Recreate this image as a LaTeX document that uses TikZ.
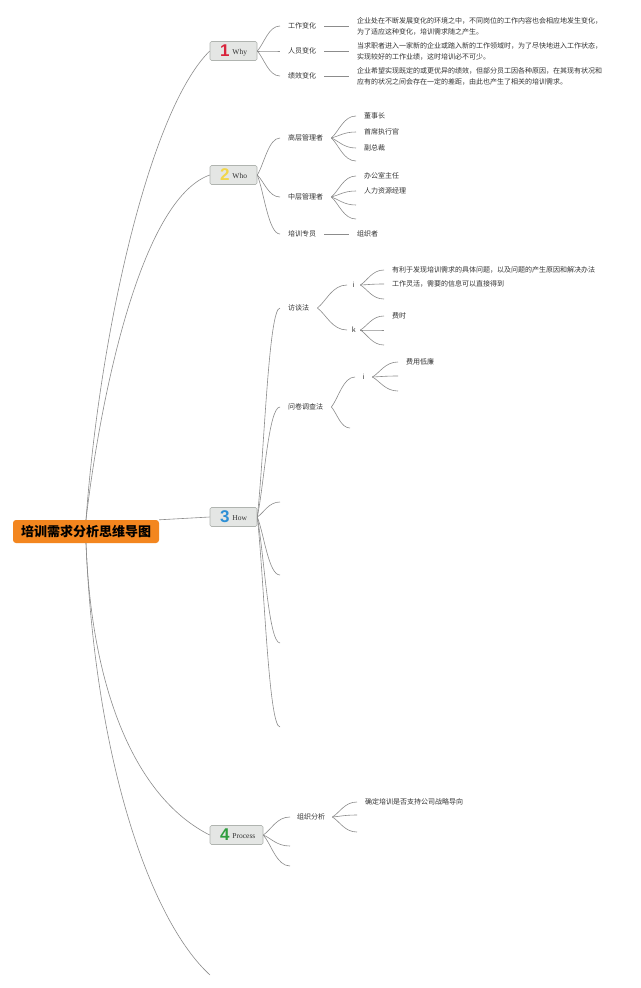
\documentclass[tikz,border=0pt]{standalone}
\usepackage{fontspec}
\setmainfont{Liberation Serif}
\newfontfamily\cjk{Noto Sans CJK SC}
\newfontfamily\numf{Liberation Sans}
\usetikzlibrary{calc}
\definecolor{lnc}{HTML}{8C8C8C}
\definecolor{txt}{HTML}{333333}
\definecolor{tbf}{HTML}{E4E6E4}
\definecolor{tbd}{HTML}{B0B4B0}
\definecolor{orng}{HTML}{F3861F}
\definecolor{n1}{HTML}{D9243C}
\definecolor{n2}{HTML}{F2D64B}
\definecolor{n3}{HTML}{2D8FD5}
\definecolor{n4}{HTML}{2E9E3E}
\newcommand\tpc[4]{\makebox[#1pt][l]{\hspace{10pt}{\color{#2}\numf\bfseries\fontsize{17}{17}\selectfont #3}\hspace{3pt}\raisebox{2.5pt}{\color{txt}\fontsize{7.5}{8}\selectfont #4}}}
\begin{document}
\begin{tikzpicture}[x=1pt,y=-1pt,
  conn/.style={draw=lnc,line width=0.6pt},
  br/.style={to path={let \p1=(\tikztostart), \p2=(\tikztotarget) in .. controls ({\x1+0.3*(\x2-\x1)},{\y1+0.3*(\y2-\y1)}) and ({\x1+0.5*(\x2-\x1)},{\y2}) .. (\p2)}},
  root/.style={fill=orng,rounded corners=3pt,minimum width=146pt,minimum height=23pt,inner sep=0pt,font=\cjk\bfseries\fontsize{13}{13}\selectfont,text=black},
  topic/.style={draw=tbd,fill=tbf,rounded corners=1.5pt,inner sep=0pt,minimum height=19pt,line width=0.6pt},
  lbl/.style={anchor=west,inner xsep=8pt,inner ysep=1pt,font=\cjk\fontsize{7}{8}\selectfont,text=txt},
  desc/.style={lbl,align=left,font=\cjk\fontsize{7}{11}\selectfont},
  ik/.style={anchor=west,inner sep=0pt,minimum height=9pt,font=\cjk\fontsize{7}{8}\selectfont,text=txt}
]
\useasboundingbox[fill=white] (0,0) rectangle (640,988);

% root and main topics
\node[root] (root) at (86,531.5) {培训需求分析思维导图};
\node[topic] (why) at (233.5,51) {\tpc{47}{n1}{1}{Why}};
\node[topic] (who) at (233.5,175) {\tpc{47}{n2}{2}{Who}};
\node[topic] (how) at (233.5,517) {\tpc{47}{n3}{3}{How}};
\node[topic] (proc) at (236.5,835) {\tpc{53}{n4}{4}{Process}};
\coordinate (last) at (210,975);

\draw[conn] (root.north) .. controls (100,330) and (150,110) .. (why.west);
\draw[conn] (root.north) .. controls (100,400) and (140,200) .. (who.west);
\draw[conn] (root.north east) -- (how.west);
\draw[conn] (root.south) .. controls (92,700) and (140,800) .. (proc.west);
\draw[conn] (root.south) .. controls (95,760) and (150,920) .. (last);

% Why
\node[lbl] (w1) at (280,26) {工作变化};
\node[lbl] (w2) at (280,51) {人员变化};
\node[lbl] (w3) at (280,76) {绩效变化};
\node[desc] (d1) at (349,26) {企业处在不断发展变化的环境之中，不同岗位的工作内容也会相应地发生变化，\\为了适应这种变化，培训需求随之产生。};
\node[desc] (d2) at (349,51) {当求职者进入一家新的企业或踏入新的工作领域时，为了尽快地进入工作状态，\\实现较好的工作业绩，这时培训必不可少。};
\node[desc] (d3) at (349,76) {企业希望实现既定的或更优异的绩效，但部分员工因各种原因，在其现有状况和\\应有的状况之间会存在一定的差距，由此也产生了相关的培训需求。};
\foreach \c in {w1,w2,w3}{\draw[conn] (why.east) to[br] (\c.west);}
\draw[conn] (w1.east) -- (d1.west);
\draw[conn] (w2.east) -- (d2.west);
\draw[conn] (w3.east) -- (d3.west);

% Who
\node[lbl] (g1) at (280,138) {高层管理者};
\node[lbl] (g2) at (280,197) {中层管理者};
\node[lbl] (g3) at (280,234) {培训专员};
\node[lbl] (g3a) at (349,234) {组织者};
\foreach \c in {g1,g2,g3}{\draw[conn] (who.east) to[br] (\c.west);}
\draw[conn] (g3.east) -- (g3a.west);
\node[lbl] (g1a) at (356,116) {董事长};
\node[lbl] (g1b) at (356,132) {首席执行官};
\node[lbl] (g1c) at (356,148) {副总裁};
\coordinate (g1d) at (356,161);
\foreach \c in {g1a.west,g1b.west,g1c.west,g1d}{\draw[conn] (g1.east) to[br] (\c);}
\node[lbl] (g2a) at (356,176) {办公室主任};
\node[lbl] (g2b) at (356,191) {人力资源经理};
\coordinate (g2c) at (356,205);
\coordinate (g2d) at (356,219);
\foreach \c in {g2a.west,g2b.west,g2c,g2d}{\draw[conn] (g2.east) to[br] (\c);}

% How
\node[lbl] (m1) at (280,308) {访谈法};
\node[lbl] (m2) at (280,407) {问卷调查法};
\coordinate (m3) at (280,502);
\coordinate (m4) at (280,575);
\coordinate (m5) at (280,643);
\coordinate (m6) at (280,727);
\foreach \c in {m1.west,m2.west,m3,m4,m5,m6}{\draw[conn] (how.east) to[br] (\c);}
\node[ik,minimum width=13pt] (mi) at (347,285) {i};
\node[ik,minimum width=13pt] (mk) at (347,330) {k};
\draw[conn] (m1.east) to[br] (mi.west);
\draw[conn] (m1.east) to[br] (mk.west);
\node[lbl] (mia) at (384,270) {有利于发现培训需求的具体问题，以及问题的产生原因和解决办法};
\node[lbl] (mib) at (384,284) {工作灵活，需要的信息可以直接得到};
\coordinate (mic) at (384,299);
\foreach \c in {mia.west,mib.west,mic}{\draw[conn] (mi.east) to[br] (\c);}
\node[lbl] (mka) at (384,316) {费时};
\coordinate (mkb) at (384,330);
\coordinate (mkc) at (384,345);
\foreach \c in {mka.west,mkb,mkc}{\draw[conn] (mk.east) to[br] (\c);}
\node[ik,minimum width=17pt] (qi) at (355,377) {i};
\coordinate (qb) at (350,428);
\draw[conn] (m2.east) to[br] (qi.west);
\draw[conn] (m2.east) to[br] (qb);
\node[lbl] (qia) at (398,362) {费用低廉};
\coordinate (qib) at (398,376);
\coordinate (qic) at (398,391);
\foreach \c in {qia.west,qib,qic}{\draw[conn] (qi.east) to[br] (\c);}

% Process
\node[lbl,inner xsep=7pt] (p1) at (290,817) {组织分析};
\coordinate (p2) at (290,846);
\coordinate (p3) at (290,866);
\foreach \c in {p1.west,p2,p3}{\draw[conn] (proc.east) to[br] (\c);}
\node[lbl] (p1a) at (357,802) {确定培训是否支持公司战略导向};
\coordinate (p1b) at (357,815);
\coordinate (p1c) at (357,832);
\foreach \c in {p1a.west,p1b,p1c}{\draw[conn] (p1.east) to[br] (\c);}
\end{tikzpicture}
\end{document}
